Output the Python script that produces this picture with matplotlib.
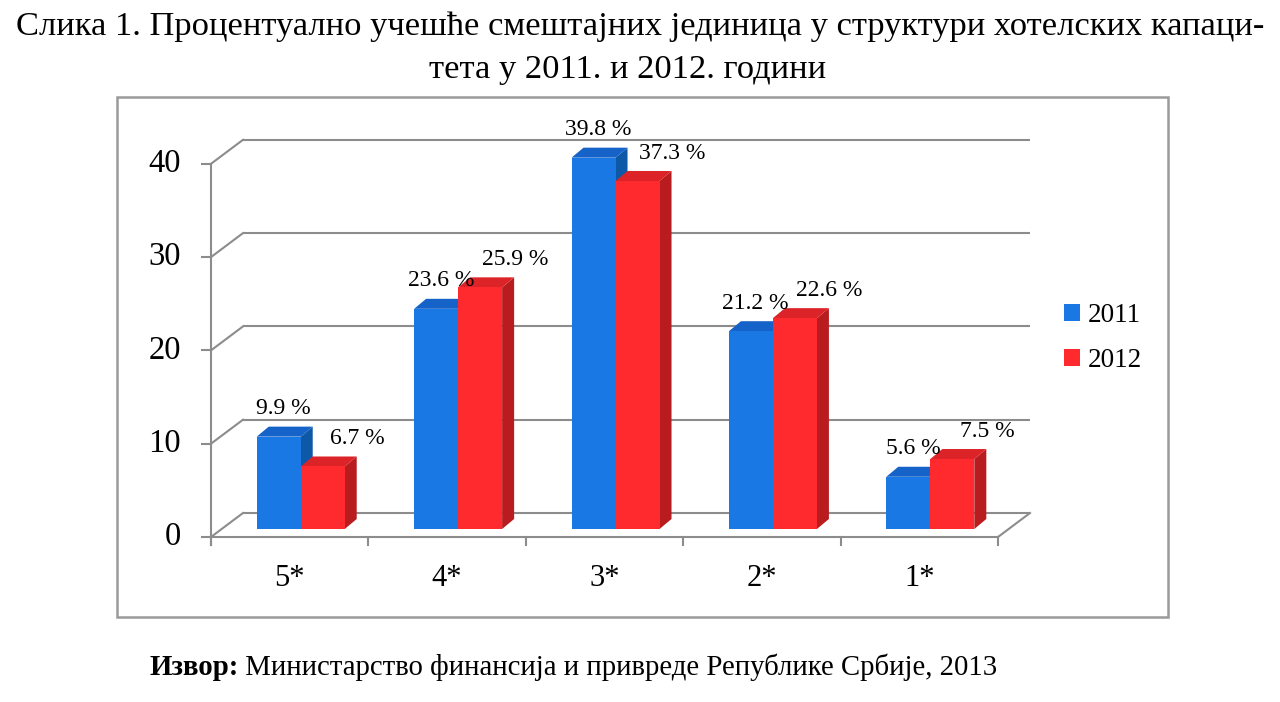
import numpy as np
import matplotlib
matplotlib.use("Agg")
import matplotlib.pyplot as plt
from matplotlib.patches import Polygon, Rectangle, Patch

plt.rcParams['font.family'] = ['Liberation Serif', 'DejaVu Serif']

# data
categories = ["5*", "4*", "3*", "2*", "1*"]
vals_2011 = [9.9, 23.6, 39.8, 21.2, 5.6]
vals_2012 = [6.7, 25.9, 37.3, 22.6, 7.5]
series_names = ["2011", "2012"]
yticks = [0, 10, 20, 30, 40]

title_1 = "Слика 1. Процентуално учешће смештајних јединица у структури хотелских капаци-"
title_2 = "тета у 2011. и 2012. години"
source_bold = "Извор:"
source_text = " Министарство финансија и привреде Републике Србије, 2013"

# colours (front, top, side)
blue = ("#1a78e4", "#1562c8", "#0e58a8")
red = ("#fe2a2e", "#dc2327", "#b81c1e")
grid_c = "#8c8c8c"

# pixel geometry of the reference
W, H = 1280, 702
x0_px, cat_px = 211, 157.4      # left axis x, width of one category
y0_px, unit_px = 537, 9.33      # y of value 0, pixels per unit

fig = plt.figure(figsize=(W / 100, H / 100), dpi=100)
ax = fig.add_axes([0, 0, 1, 1])
ax.set_xlim(-x0_px / cat_px, (W - x0_px) / cat_px)
ax.set_ylim((y0_px - H) / unit_px, y0_px / unit_px)
ax.axis("off")

# depth of the floor / walls
dx, dy = 32 / cat_px, 24 / unit_px
n = len(categories)
lw = 1.5

# back wall grid lines and diagonals
for v in yticks:
    ax.plot([dx, n + dx], [v + dy, v + dy], color=grid_c, lw=lw, solid_capstyle="butt")
    ax.plot([0, dx], [v, v + dy], color=grid_c, lw=lw)
    ax.plot([-9 / cat_px, 0], [v, v], color=grid_c, lw=lw)
    ax.text(-30 / cat_px, v, str(v), ha="right", va="center", fontsize=23.5)
ax.plot([0, 0], [-8 / unit_px, yticks[-1]], color=grid_c, lw=lw)
ax.plot([0, n], [0, 0], color=grid_c, lw=lw)
ax.plot([n, n + dx], [0, dy], color=grid_c, lw=lw)
for i in range(n + 1):
    ax.plot([i, i], [0, -8 / unit_px], color=grid_c, lw=lw)

# bars
bw = 44 / cat_px
bdx, bdy = 12 / cat_px, 10 / unit_px
base = 8 / unit_px
shift = 0.07


def bar3d(xl, h, cols):
    xr = xl + bw
    top = base + h
    front = [(xl, base), (xr, base), (xr, top), (xl, top)]
    topf = [(xl, top), (xr, top), (xr + bdx, top + bdy), (xl + bdx, top + bdy)]
    side = [(xr, base), (xr + bdx, base + bdy), (xr + bdx, top + bdy), (xr, top)]
    ax.add_patch(Polygon(side, closed=True, fc=cols[2], ec="none", zorder=3))
    ax.add_patch(Polygon(topf, closed=True, fc=cols[1], ec="none", zorder=3))
    ax.add_patch(Polygon(front, closed=True, fc=cols[0], ec="none", zorder=3))


for i, cat in enumerate(categories):
    c = i + 0.5 + shift
    bar3d(c - bw, vals_2011[i], blue)
    bar3d(c, vals_2012[i], red)
    ax.text(c - bw / 2 + 0.03, base + vals_2011[i] + 3.0, "%.1f %%" % vals_2011[i],
            ha="center", va="center", fontsize=17, zorder=5)
    ax.text(c + bw / 2 + 0.22, base + vals_2012[i] + 3.0, "%.1f %%" % vals_2012[i],
            ha="center", va="center", fontsize=17, zorder=5)
    ax.text(i + 0.5, -41 / unit_px, cat, ha="center", va="center", fontsize=22)

# legend
handles = [Patch(fc=blue[0], ec="none"), Patch(fc=red[0], ec="none")]
ax.legend(handles, series_names, loc="center left", frameon=False, fontsize=19.5,
          handlelength=0.6, handleheight=0.6, handletextpad=0.3, labelspacing=0.75,
          borderpad=0, bbox_to_anchor=(1050 / W, 1 - 338 / H), bbox_transform=fig.transFigure)

# chart border
fig.patches.append(Rectangle((117 / W, 1 - 617 / H), (1168 - 117) / W, (617 - 97) / H,
                             transform=fig.transFigure, fill=False, ec="#9a9a9a", lw=1.8))

# title and source
fig.text(640 / W, 1 - 35 / H, title_1, ha="center", va="baseline", fontsize=24.8)
fig.text(628 / W, 1 - 78 / H, title_2, ha="center", va="baseline", fontsize=24.8)
t = fig.text(149 / W, 1 - 675 / H, source_bold, ha="left", va="baseline", fontsize=20.7,
             fontweight="bold")
r = fig.canvas.get_renderer()
bb = t.get_window_extent(r)
fig.text(bb.x1 / W, 1 - 675 / H, source_text, ha="left", va="baseline", fontsize=20.7)

fig.savefig("out.png", dpi=100, facecolor="white")
